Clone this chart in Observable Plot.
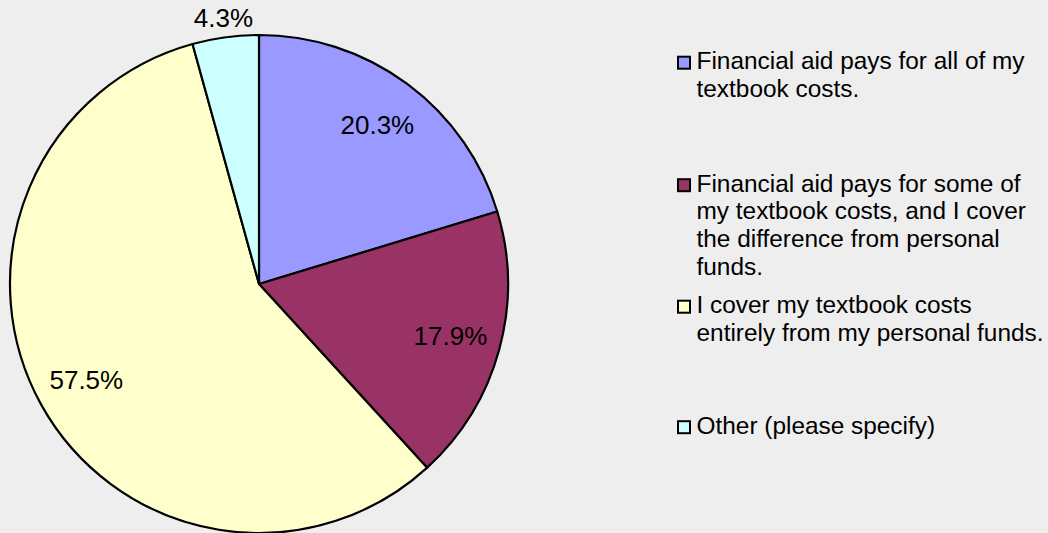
<!DOCTYPE html>
<html><head><meta charset="utf-8">
<script src="https://cdn.jsdelivr.net/npm/d3@7"></script>
<script src="https://cdn.jsdelivr.net/npm/@observablehq/plot@0.6"></script>
<style>
html,body{margin:0;padding:0;background:#eeeeee;overflow:hidden;}
#chart svg{display:block;background:#eeeeee;}
</style></head><body><div id="chart"></div>
<script>
// ---- data ----
const categories = [
  "Financial aid pays for all of my\ntextbook costs.",
  "Financial aid pays for some of\nmy textbook costs, and I cover\nthe difference from personal\nfunds.",
  "I cover my textbook costs\nentirely from my personal funds.",
  "Other (please specify)"
];
const shares = [20.3, 17.9, 57.5, 4.3];
const sliceColors = ["#9999ff", "#993366", "#ffffcc", "#ccffff"];

// ---- layout ----
const W = 1048, H = 533;
const cx = 259, cy = 284, R = 249;
const legendX = 696, legendTops = [54, 176.5, 298, 418.5];
const FONT = "'Liberation Sans', Arial, sans-serif";

const rows = categories.map((c, i) => ({category: c, share: shares[i], i}));
const pieArcs = d3.pie().sort(null).value(d => d.share)(rows);
const labels = pieArcs.map(a => {
  const mid = (a.startAngle + a.endAngle) / 2;
  const r = a.data.share < 5 ? R * 1.077 : R * 0.795;
  return {x: cx + r * Math.sin(mid), y: cy - r * Math.cos(mid), text: a.data.share.toFixed(1) + "%"};
});

const pieMark = (index, scales, values, dimensions, context) => {
  const arc = d3.arc().innerRadius(0).outerRadius(scales.x(cx + R) - scales.x(cx));
  const g = d3.create("svg:g")
    .attr("transform", `translate(${scales.x(cx)},${scales.y(cy)})`);
  g.selectAll("path").data(pieArcs).join("path")
    .attr("d", arc)
    .attr("fill", d => scales.color(d.data.category))
    .attr("stroke", "#000")
    .attr("stroke-width", 2.2)
    .attr("stroke-linejoin", "round");
  return g.node();
};

const sw = 12;
const legendRows = rows.map(r => ({
  category: r.category,
  top: legendTops[r.i],
  sy: legendTops[r.i] + 8.7
}));

const chart = Plot.plot({
  width: W, height: H,
  margin: 0,
  style: {background: "#eeeeee", fontFamily: FONT},
  x: {domain: [0, W], range: [0, W], axis: null},
  y: {domain: [0, H], range: [0, H], axis: null},
  color: {domain: categories, range: sliceColors},
  marks: [
    pieMark,
    Plot.text(labels, {x: "x", y: "y", text: "text", fontSize: 26, fill: "#000",
      textAnchor: "middle", lineAnchor: "middle", fontFamily: FONT}),
    Plot.rect(legendRows, {
      x1: () => 678, x2: () => 678 + sw,
      y1: d => d.sy - sw / 2, y2: d => d.sy + sw / 2,
      fill: "category", stroke: "#000", strokeWidth: 2
    }),
    Plot.text(legendRows, {x: () => legendX, y: "top", dy: -5, text: "category",
      fontSize: 24.4, lineHeight: 1.135, textAnchor: "start", lineAnchor: "top",
      fill: "#000", fontFamily: FONT})
  ]
});
document.getElementById("chart").append(chart);
</script>
</body></html>
